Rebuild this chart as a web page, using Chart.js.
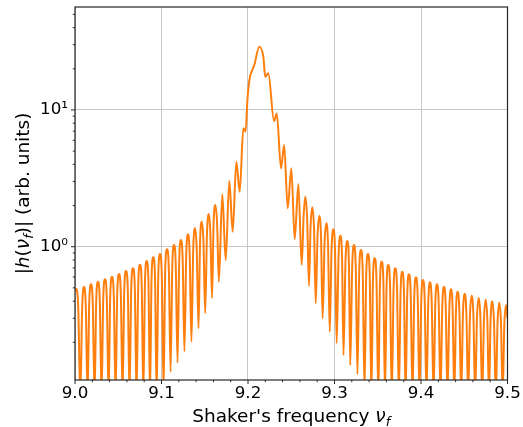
<!DOCTYPE html>
<html><head><meta charset="utf-8">
<script src="https://cdn.jsdelivr.net/npm/chart.js@4"></script>
<style>html,body{margin:0;padding:0;background:#fff}#wrap{width:523px;height:427px;position:relative}</style>
</head><body><div id="wrap"><canvas id="c" width="523" height="427"></canvas></div>
<script>
// Shaker's frequency (x) and |h(nu_f)| (y): lobe peaks, nulls and the central structure
const freq = [
  9.0000, 9.0017, 9.0061, 9.0104, 9.0145, 9.0185, 9.0226, 9.0266, 9.0307, 9.0347,
  9.0388, 9.0428, 9.0469, 9.0509, 9.0550, 9.0590, 9.0630, 9.0671, 9.0711, 9.0751,
  9.0790, 9.0829, 9.0867, 9.0905, 9.0944, 9.0983, 9.1024, 9.1064, 9.1105, 9.1145,
  9.1185, 9.1225, 9.1265, 9.1306, 9.1346, 9.1387, 9.1428, 9.1465, 9.1505, 9.1546,
  9.1584, 9.1622, 9.1663, 9.1703, 9.1742, 9.1784, 9.1823, 9.1865, 9.1904, 9.1946,
  9.1971, 9.1996, 9.2023, 9.2043, 9.2073, 9.2131, 9.2177, 9.2200, 9.2235, 9.2301,
  9.2332, 9.2382, 9.2418, 9.2459, 9.2501, 9.2540, 9.2582, 9.2621, 9.2663, 9.2705,
  9.2743, 9.2783, 9.2824, 9.2863, 9.2905, 9.2945, 9.2986, 9.3025, 9.3067, 9.3104,
  9.3147, 9.3182, 9.3225, 9.3265, 9.3306, 9.3347, 9.3387, 9.3426, 9.3465, 9.3506,
  9.3546, 9.3584, 9.3622, 9.3662, 9.3703, 9.3744, 9.3784, 9.3822, 9.3861, 9.3902,
  9.3942, 9.3982, 9.4023, 9.4063, 9.4104, 9.4145, 9.4185, 9.4225, 9.4266, 9.4306,
  9.4347, 9.4385, 9.4424, 9.4465, 9.4505, 9.4545, 9.4586, 9.4626, 9.4667, 9.4707,
  9.4748, 9.4786, 9.4824, 9.4865, 9.4905, 9.4944, 9.4983, 9.5000
];
const amp = [
  0.47, 0.490, 0.08, 0.510, 0.08, 0.531, 0.08, 0.555, 0.08, 0.577,
  0.08, 0.603, 0.08, 0.631, 0.08, 0.664, 0.08, 0.695, 0.08, 0.739,
  0.08, 0.786, 0.08, 0.837, 0.08, 0.884, 0.09, 0.957, 0.122, 1.029,
  0.142, 1.119, 0.171, 1.232, 0.202, 1.363, 0.253, 1.524, 0.326, 1.735,
  0.421, 2.018, 0.555, 2.417, 0.799, 3.040, 1.287, 4.186, 2.526, 7.347,
  6.94, 12.5, 17.5, 19.05, 21.35, 29.04, 24.5, 17.43, 18.56, 8.31,
  9.43, 3.746, 5.546, 1.910, 3.746, 1.133, 2.875, 0.735, 2.321, 0.518,
  1.942, 0.386, 1.677, 0.299, 1.483, 0.239, 1.341, 0.197, 1.204, 0.161,
  1.101, 0.136, 1.029, 0.117, 0.946, 0.09, 0.884, 0.08, 0.823, 0.08,
  0.777, 0.08, 0.735, 0.08, 0.695, 0.08, 0.656, 0.08, 0.628, 0.08,
  0.597, 0.08, 0.571, 0.08, 0.549, 0.08, 0.531, 0.08, 0.510, 0.08,
  0.488, 0.08, 0.469, 0.08, 0.453, 0.08, 0.438, 0.08, 0.421, 0.08,
  0.410, 0.08, 0.399, 0.08, 0.389, 0.08, 0.375, 0.30
];
// flanks of the side lobes (about half-way between each peak and its nulls)
const flankFreq = [
  9.0038,
  9.0083, 9.0125, 9.0164, 9.0206, 9.0245, 9.0287, 9.0326, 9.0368, 9.0407, 9.0449,
  9.0488, 9.0530, 9.0569, 9.0611, 9.0650, 9.0692, 9.0731, 9.0771, 9.0809, 9.0849,
  9.0885, 9.0925, 9.0963, 9.1003, 9.1043, 9.1085, 9.1125, 9.1165, 9.1205, 9.1245,
  9.1286, 9.1326, 9.1367, 9.1407, 9.1446, 9.1485, 9.1526, 9.1565, 9.1602, 9.1643,
  9.2643, 9.2683, 9.2723, 9.2763, 9.2804, 9.2844, 9.2885, 9.2925, 9.2966, 9.3006,
  9.3047, 9.3087, 9.3127, 9.3166, 9.3205, 9.3245, 9.3286, 9.3326, 9.3367, 9.3407,
  9.3445, 9.3485, 9.3526, 9.3565, 9.3602, 9.3642, 9.3683, 9.3723, 9.3764, 9.3803,
  9.3841, 9.3881, 9.3922, 9.3962, 9.4003, 9.4043, 9.4084, 9.4124, 9.4165, 9.4205,
  9.4246, 9.4286, 9.4327, 9.4366, 9.4404, 9.4444, 9.4485, 9.4525, 9.4566, 9.4606,
  9.4647, 9.4687, 9.4728, 9.4767, 9.4804, 9.4844, 9.4885, 9.4925,
  9.4963
];
const flankAmp = [
  0.35,
  0.36, 0.36, 0.377, 0.377, 0.394, 0.394, 0.41, 0.41, 0.428, 0.428,
  0.448, 0.448, 0.471, 0.471, 0.493, 0.493, 0.525, 0.525, 0.558, 0.558,
  0.594, 0.594, 0.628, 0.628, 0.68, 0.68, 0.73, 0.73, 0.795, 0.795,
  0.875, 0.875, 0.97, 0.97, 1.09, 1.09, 1.25, 1.25, 1.47, 1.47,
  1.68, 1.65, 1.39, 1.38, 1.2, 1.19, 1.055, 1.05, 0.953, 0.95,
  0.855, 0.853, 0.782, 0.78, 0.73, 0.73, 0.672, 0.67, 0.628, 0.628,
  0.584, 0.584, 0.552, 0.552, 0.522, 0.522, 0.493, 0.493, 0.466, 0.466,
  0.446, 0.446, 0.424, 0.424, 0.405, 0.405, 0.39, 0.39, 0.377, 0.377,
  0.362, 0.362, 0.346, 0.346, 0.333, 0.333, 0.322, 0.322, 0.311, 0.311,
  0.299, 0.299, 0.291, 0.291, 0.283, 0.283, 0.276, 0.276,
  0.266
];

const xRange = [9.0, 9.5];
const yRange = [0.106, 56.6];
const xMajorTicks = [9.0, 9.1, 9.2, 9.3, 9.4, 9.5];
const xTickLabels = ['9.0', '9.1', '9.2', '9.3', '9.4', '9.5'];
const xMinorTicks = [9.02, 9.04, 9.06, 9.08, 9.12, 9.14, 9.16, 9.18, 9.22, 9.24, 9.26, 9.28,
                     9.32, 9.34, 9.36, 9.38, 9.42, 9.44, 9.46, 9.48];
const yMajorTicks = [1, 10];
const yTickLabels = ['10\u2070', '10\u00B9'];
const yMinorTicks = [0.2, 0.3, 0.4, 0.5, 0.6, 0.7, 0.8, 0.9, 2, 3, 4, 5, 6, 7, 8, 9, 20, 30, 40, 50];

const FONT = 'DejaVu Sans';
const FS = 16.7;   // tick labels
const TS = 18.5;   // axis titles

const points = freq.map((f, i) => ({ x: f, y: amp[i] }))
  .concat(flankFreq.map((f, i) => ({ x: f, y: flankAmp[i] })))
  .sort((p, q) => p.x - q.x);

function drawRich(ctx, segs, cx, by) {
  let total = 0;
  segs.forEach(s => { ctx.font = s.font; s.w = ctx.measureText(s.t).width; total += s.w; });
  let x = cx - total / 2;
  ctx.textAlign = 'left';
  ctx.textBaseline = 'alphabetic';
  segs.forEach(s => { ctx.font = s.font; ctx.fillText(s.t, x, by + (s.dy || 0)); x += s.w; });
}

const decor = {
  id: 'decor',
  afterDraw(chart) {
    const ctx = chart.ctx, a = chart.chartArea, xs = chart.scales.x, ys = chart.scales.y;
    ctx.save();
    ctx.strokeStyle = '#262626';
    ctx.lineWidth = 1.2;
    ctx.strokeRect(a.left, a.top, a.right - a.left, a.bottom - a.top);
    ctx.lineWidth = 1;
    const tick = (x1, y1, x2, y2) => { ctx.beginPath(); ctx.moveTo(x1, y1); ctx.lineTo(x2, y2); ctx.stroke(); };
    xMajorTicks.forEach(v => { const p = xs.getPixelForValue(v); tick(p, a.bottom, p, a.bottom + 4); });
    xMinorTicks.forEach(v => { const p = xs.getPixelForValue(v); tick(p, a.bottom, p, a.bottom + 2.2); });
    yMajorTicks.forEach(v => { const p = ys.getPixelForValue(v); tick(a.left, p, a.left - 4, p); });
    yMinorTicks.forEach(v => { const p = ys.getPixelForValue(v); tick(a.left, p, a.left - 2.2, p); });
    ctx.fillStyle = '#000';
    const nf = TS + 'px "' + FONT + '"';
    const itf = 'italic ' + TS + 'px "' + FONT + '"';
    const sub = 'italic ' + (TS * 0.7).toFixed(1) + 'px "' + FONT + '"';
    drawRich(ctx, [
      { t: "Shaker's frequency ", font: nf },
      { t: '\u03BD', font: itf },
      { t: 'f', font: sub, dy: 4 }
    ], (a.left + a.right) / 2, 422);
    ctx.translate(28.5, (a.top + a.bottom) / 2);
    ctx.rotate(-Math.PI / 2);
    drawRich(ctx, [
      { t: '|', font: nf },
      { t: 'h', font: itf },
      { t: '(', font: nf },
      { t: '\u03BD', font: itf },
      { t: 'f', font: sub, dy: 4 },
      { t: ')|', font: nf },
      { t: ' (arb. units)', font: nf }
    ], 0, 0);
    ctx.restore();
  }
};

new Chart(document.getElementById('c'), {
  type: 'line',
  data: {
    datasets: [{
      data: points,
      borderColor: '#ff7f0e',
      borderWidth: 2,
      pointRadius: 0,
      fill: false,
      cubicInterpolationMode: 'monotone'
    }]
  },
  options: {
    responsive: false,
    animation: false,
    devicePixelRatio: 1,
    layout: { padding: { top: 7, right: 15.5, left: 0, bottom: 0 } },
    plugins: { legend: { display: false }, tooltip: { enabled: false } },
    scales: {
      x: {
        type: 'linear',
        min: xRange[0], max: xRange[1],
        afterBuildTicks: s => { s.ticks = xMajorTicks.map(v => ({ value: v })); },
        afterFit: s => { s.height = 47; s.paddingLeft = 0; s.paddingRight = 0; },
        ticks: {
          autoSkip: false, maxRotation: 0, padding: 4, color: '#000',
          font: { family: FONT, size: FS },
          callback: (v, i) => xTickLabels[i]
        },
        grid: { color: '#c6c6c6', lineWidth: 1, drawTicks: false },
        border: { display: false }
      },
      y: {
        type: 'logarithmic',
        min: yRange[0], max: yRange[1],
        afterBuildTicks: s => { s.ticks = yMajorTicks.map(v => ({ value: v })); },
        afterFit: s => { s.width = 75; s.paddingTop = 0; s.paddingBottom = 0; },
        ticks: {
          autoSkip: false, padding: 7, color: '#000',
          font: { family: FONT, size: FS },
          callback: (v, i) => yTickLabels[i]
        },
        grid: { color: '#c6c6c6', lineWidth: 1, drawTicks: false },
        border: { display: false }
      }
    }
  },
  plugins: [decor]
});
</script>
</body></html>
